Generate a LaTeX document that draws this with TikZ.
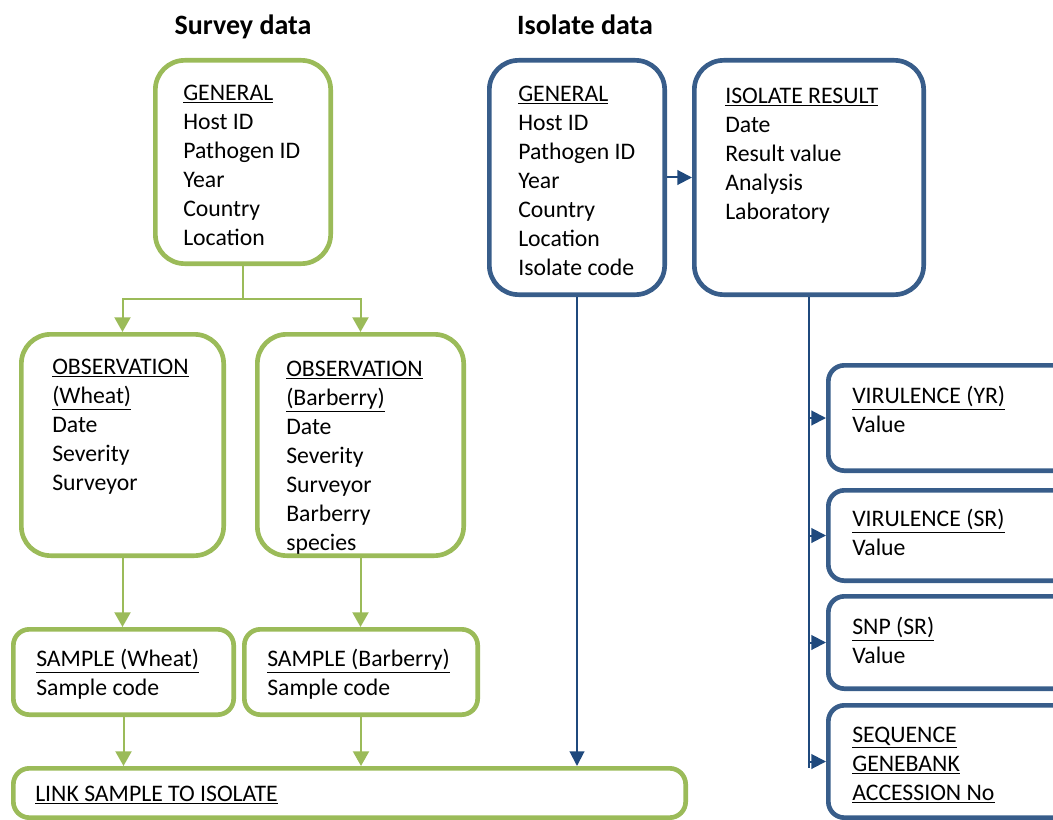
\documentclass[tikz,border=0pt]{standalone}
\usepackage{fontspec}
\setmainfont{Carlito}
\usetikzlibrary{arrows.meta}

\definecolor{survey}{HTML}{9BBB59}
\definecolor{isolate}{HTML}{385D8A}
\definecolor{isolink}{HTML}{1F497D}

\begin{document}
\begin{tikzpicture}[x=0.75pt, y=-0.75pt,
    sbox/.style={draw=survey, line width=3.5pt, rounded corners=22pt, anchor=north west, inner sep=0pt},
    ibox/.style={draw=isolate, line width=3.5pt, rounded corners=22pt, anchor=north west, inner sep=0pt},
    tight/.style={rounded corners=12pt},
    fields/.style={anchor=north west, inner sep=0pt, align=left, font=\fontsize{17.8}{21.75}\selectfont},
    heading/.style={anchor=base, inner sep=0pt, font=\fontsize{21}{25}\selectfont\bfseries},
    sline/.style={survey, line width=1.5pt},
    sarrow/.style={sline, -{Triangle[width=12pt,length=11pt]}},
    iline/.style={isolink, line width=1.5pt},
    iarrow/.style={iline, -{Triangle[width=11pt,length=11pt]}}]
    \useasboundingbox (0,0) rectangle (1053,820);
    \clip (0,0) rectangle (1053,820);

    % Headings
    \node[heading] (survey-head) at (243,35) {Survey data};
    \node[heading] (isolate-head) at (585,35) {Isolate data};

    % Survey side
    \node[sbox, minimum width=131.5pt, minimum height=152.5pt] (sgen) at (153,58) {};
    \node[fields] (sgen-txt) at (183,85) {\underline{GENERAL}\\Host ID\\Pathogen ID\\Year\\Country\\Location};
    \node[sbox, minimum width=151.75pt, minimum height=166pt] (owheat) at (19,332) {};
    \node[fields] (owheat-txt) at (52,359) {\underline{OBSERVATION}\\\underline{(Wheat)}\\Date\\Severity\\Surveyor};
    \node[sbox, minimum width=154.75pt, minimum height=166pt] (obarb) at (255,332) {};
    \node[fields] (obarb-txt) at (286,361) {\underline{OBSERVATION}\\\underline{(Barberry)}\\Date\\Severity\\Surveyor\\Barberry\\species};
    \node[sbox, tight, minimum width=165.25pt, minimum height=64pt] (swheat) at (11,627) {};
    \node[fields] (swheat-txt) at (36,649) {\underline{SAMPLE (Wheat)}\\Sample code};
    \node[sbox, tight, minimum width=175pt, minimum height=64pt] (sbarb) at (242,627) {};
    \node[fields] (sbarb-txt) at (267,649) {\underline{SAMPLE (Barberry)}\\Sample code};
    \node[sbox, tight, minimum width=504.25pt, minimum height=37pt] (link) at (11,766) {};
    \node[fields] (link-txt) at (35,786) {\underline{LINK SAMPLE TO ISOLATE}};

    % Isolate side
    \node[ibox, minimum width=131.5pt, minimum height=175.75pt] (ogen) at (487,58) {};
    \node[fields] (ogen-txt) at (518,86) {\underline{GENERAL}\\Host ID\\Pathogen ID\\Year\\Country\\Location\\Isolate code};
    \node[ibox, minimum width=172pt, minimum height=175.75pt] (res) at (692,58) {};
    \node[fields] (res-txt) at (725,88) {\underline{ISOLATE RESULT}\\Date\\Result value\\Analysis\\Laboratory};
    \node[ibox, tight, minimum width=190pt, minimum height=79pt] (yr) at (826,363) {};
    \node[fields] (yr-txt) at (852,386) {\underline{VIRULENCE (YR)}\\Value};
    \node[ibox, tight, minimum width=190pt, minimum height=67.75pt] (sr) at (826,488) {};
    \node[fields] (sr-txt) at (852,509) {\underline{VIRULENCE (SR)}\\Value};
    \node[ibox, tight, minimum width=190pt, minimum height=69.25pt] (snp) at (826,594) {};
    \node[fields] (snp-txt) at (852,617) {\underline{SNP (SR)}\\Value};
    \node[ibox, tight, minimum width=190pt, minimum height=84.25pt] (seq) at (826,703) {};
    \node[fields] (seq-txt) at (852,727) {\underline{SEQUENCE}\\\underline{GENEBANK}\\\underline{ACCESSION No}};

    % Survey connectors
    \draw[sline] (sgen.south) -- ++(0,33) coordinate (split);
    \draw[sarrow] (split) -| (owheat.north);
    \draw[sarrow] (split) -| (obarb.north);
    \draw[sarrow] (owheat.south) -- (owheat.south |- swheat.north);
    \draw[sarrow] (obarb.south) -- (obarb.south |- sbarb.north);
    \draw[sarrow] (swheat.south) -- (swheat.south |- link.north);
    \draw[sarrow] (sbarb.south) -- (sbarb.south |- link.north);

    % Isolate connectors
    \draw[iarrow] (ogen.south) -- (ogen.south |- link.north);
    \draw[iarrow] (ogen.east) -- (res.west);
    \draw[iline] (res.south) -- (res.south |- seq.west) -- ++(0,6);
    \foreach \b in {yr,sr,snp,seq}
        \draw[iarrow] (res.south |- \b.west) -- (\b.west);
\end{tikzpicture}
\end{document}
